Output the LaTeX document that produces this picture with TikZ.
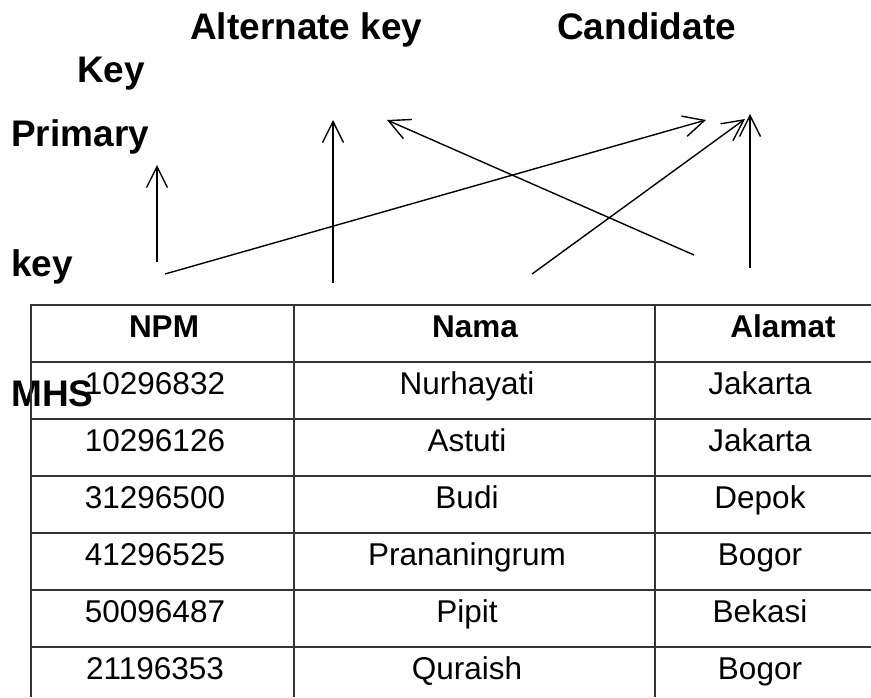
\documentclass[tikz,border=0pt]{standalone}
\usepackage{fontspec}
\setmainfont{Liberation Sans}
\usetikzlibrary{arrows.meta}
\begin{document}
\begin{tikzpicture}[x=1pt,y=-1pt,
  lbl/.style={font=\fontsize{37}{44}\selectfont\bfseries, inner sep=0pt, anchor=base west},
  hdr/.style={font=\fontsize{31.5}{38}\selectfont\bfseries, inner sep=0pt, anchor=base},
  cell/.style={font=\fontsize{31.5}{38}\selectfont, inner sep=0pt, anchor=base},
  gridline/.style={line width=1.6pt, draw=black!80},
  arr/.style={line width=1.4pt, -{Straight Barb[length=21pt,width=21pt]}},
]
\useasboundingbox (0,0) rectangle (871,697);

% labels
\node[lbl] (alt) at (190,39) {Alternate key};
\node[lbl] (cand) at (557,39) {Candidate};
\node[lbl] (keyA) at (77,82) {Key};
\node[lbl] (prim) at (11,146) {Primary};
\node[lbl] (keyB) at (11,276) {key};
\node[lbl] (mhs) at (11,406) {MHS};

% table grid
\draw[gridline] (31,697) -- (31,305) -- (871,305);
\draw[gridline] (294,305) -- (294,697);
\draw[gridline] (655,305) -- (655,697);
\foreach \yy in {362,419,476,533,590,647}
  \draw[gridline] (31,\yy) -- (871,\yy);

% header
\node[hdr] (hNPM) at (164,337) {NPM};
\node[hdr] (hNama) at (475,337) {Nama};
\node[hdr] (hAlamat) at (783,337) {Alamat};

% rows
\node[cell] (r1a) at (155,394) {10296832};
\node[cell] (r1b) at (467,394) {Nurhayati};
\node[cell] (r1c) at (760,394) {Jakarta};
\node[cell] (r2a) at (155,451) {10296126};
\node[cell] (r2b) at (467,451) {Astuti};
\node[cell] (r2c) at (760,451) {Jakarta};
\node[cell] (r3a) at (155,508) {31296500};
\node[cell] (r3b) at (467,508) {Budi};
\node[cell] (r3c) at (760,508) {Depok};
\node[cell] (r4a) at (155,565) {41296525};
\node[cell] (r4b) at (467,565) {Prananingrum};
\node[cell] (r4c) at (760,565) {Bogor};
\node[cell] (r5a) at (155,622) {50096487};
\node[cell] (r5b) at (467,622) {Pipit};
\node[cell] (r5c) at (760,622) {Bekasi};
\node[cell] (r6a) at (155,679) {21196353};
\node[cell] (r6b) at (467,679) {Quraish};
\node[cell] (r6c) at (760,679) {Bogor};

% arrow endpoints
\coordinate (aS) at (157,262);
\coordinate (aE) at (157,165);
\coordinate (bS) at (333,283);
\coordinate (bE) at (333,120);
\coordinate (cS) at (165,274);
\coordinate (cE) at (706,120);
\coordinate (dS) at (694,255);
\coordinate (dE) at (387,120);
\coordinate (eS) at (532,274);
\coordinate (eE) at (745,119);
\coordinate (fS) at (750,268);
\coordinate (fE) at (750,114);

\draw[arr] (aS) -- (aE);
\draw[arr] (bS) -- (bE);
\draw[arr] (cS) -- (cE);
\draw[arr] (dS) -- (dE);
\draw[arr] (eS) -- (eE);
\draw[arr] (fS) -- (fE);
\end{tikzpicture}
\end{document}
